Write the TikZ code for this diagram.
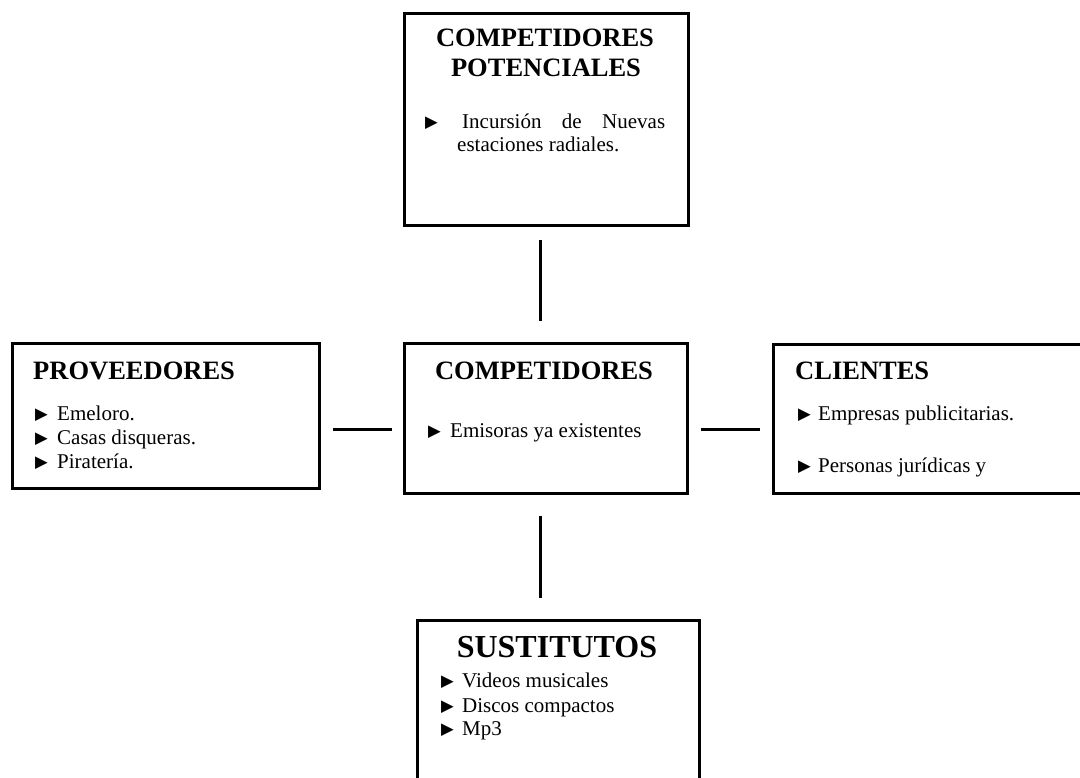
\documentclass[tikz,border=0pt]{standalone}
\usepackage{fontspec}
\setmainfont{Liberation Serif}
\newfontfamily\symf{DejaVu Sans}
\newcommand{\tri}{\raisebox{1pt}{\symf\fontsize{16.5}{17}\selectfont ▶}}
\begin{document}
\begin{tikzpicture}[x=1pt,y=-1pt,
  box/.style={draw, line width=2.7pt, inner sep=0pt, anchor=north west},
  link/.style={line width=2.5pt},
  txt/.style={inner sep=0pt, anchor=base west, font=\fontsize{21}{24}\selectfont},
  bul/.style={inner sep=0pt, anchor=base west},
  ttlc/.style={inner sep=0pt, anchor=base, font=\fontsize{26.5}{30}\selectfont\bfseries},
  ttlw/.style={inner sep=0pt, anchor=base west, font=\fontsize{26.5}{30}\selectfont\bfseries},
  big/.style={inner sep=0pt, anchor=base, font=\fontsize{32}{36}\selectfont\bfseries}]
\useasboundingbox (0,0) rectangle (1080,778);
\clip (0,0) rectangle (1080,778);
% boxes
\node[box, minimum width=284pt, minimum height=212pt] (pot) at (403,12) {};
\node[box, minimum width=307pt, minimum height=145pt] (prov) at (11,342) {};
\node[box, minimum width=283pt, minimum height=150pt] (comp) at (403,342) {};
\node[box, minimum width=318pt, minimum height=149pt] (cli) at (772,343) {};
\node[box, minimum width=282pt, minimum height=181pt] (sus) at (416,619) {};
% connectors
\draw[link, shorten <=13pt, shorten >=21pt] ([xshift=-6pt]pot.south) -- ([xshift=-5.5pt]comp.north);
\draw[link, shorten <=21pt, shorten >=21pt] ([xshift=-5.5pt]comp.south) -- ([xshift=-18pt]sus.north);
\draw[link, shorten <=12pt, shorten >=11pt] ([yshift=-13.5pt]prov.east) -- ([yshift=-11pt]comp.west);
\draw[link, shorten <=12pt, shorten >=12pt] ([yshift=-11pt]comp.east) -- ([yshift=-10.5pt]cli.west);
% top box text
\node[ttlc] (potA) at (545,47) {COMPETIDORES};
\node[ttlc] (potB) at (546,77) {POTENCIALES};
\node[bul] (potb1) at (425,129) {\tri};
\node[txt] (pott1) at (462,129) {\makebox[203pt][l]{Incursión\hfill de\hfill Nuevas}};
\node[txt] (pott2) at (457,152) {estaciones radiales.};
% left box text
\node[ttlw] (provT) at (33,379) {PROVEEDORES};
\node[bul] (provb1) at (35,420) {\tri};
\node[txt] (provt1) at (57,420) {Emeloro.};
\node[bul] (provb2) at (35,444) {\tri};
\node[txt] (provt2) at (57,444) {Casas disqueras.};
\node[bul] (provb3) at (35,468) {\tri};
\node[txt] (provt3) at (57,468) {Piratería.};
% center box text
\node[ttlc] (compT) at (544,379) {COMPETIDORES};
\node[bul] (compb1) at (428,437) {\tri};
\node[txt] (compt1) at (450,437) {Emisoras ya existentes};
% right box text
\node[ttlw] (cliT) at (795,379) {CLIENTES};
\node[bul] (clib1) at (798,420) {\tri};
\node[txt] (clit1) at (818,420) {Empresas publicitarias.};
\node[bul] (clib2) at (798,472) {\tri};
\node[txt] (clit2) at (818,472) {Personas jurídicas y};
% bottom box text
\node[big] (susT) at (557,657) {SUSTITUTOS};
\node[bul] (susb1) at (441,687) {\tri};
\node[txt] (sust1) at (462,687) {Videos musicales};
\node[bul] (susb2) at (441,712) {\tri};
\node[txt] (sust2) at (462,712) {Discos compactos};
\node[bul] (susb3) at (441,735) {\tri};
\node[txt] (sust3) at (462,735) {Mp3};
\end{tikzpicture}
\end{document}
